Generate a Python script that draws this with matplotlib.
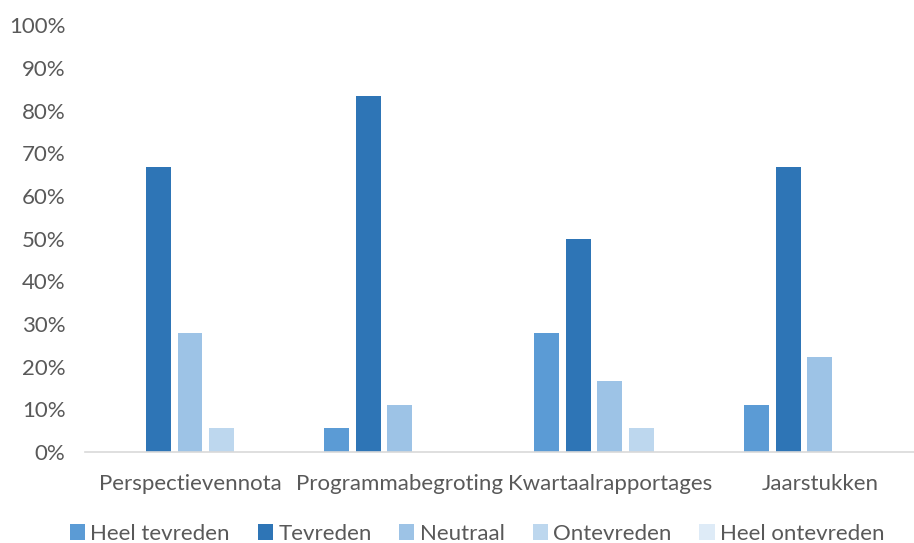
import numpy as np
import matplotlib.pyplot as plt

categories = ['Perspectievennota', 'Programmabegroting', 'Kwartaalrapportages', 'Jaarstukken']
series = ['Heel tevreden', 'Tevreden', 'Neutraal', 'Ontevreden', 'Heel ontevreden']
heel_tevreden = [0.0, 5.6, 27.8, 11.1]
tevreden = [66.7, 83.3, 50.0, 66.7]
neutraal = [27.8, 11.1, 16.7, 22.2]
ontevreden = [5.6, 0.0, 5.6, 0.0]
heel_ontevreden = [0.0, 0.0, 0.0, 0.0]
colors = ['#5B9BD5', '#2E75B6', '#9DC3E6', '#BDD7EE', '#DEEBF7']

plt.rcParams['font.family'] = ['Lato', 'DejaVu Sans']

fig = plt.figure(figsize=(9.14, 5.43), dpi=100)
ax = fig.add_axes([0.093, 0.1676, 0.919, 0.786])

x = np.arange(len(categories))
pitch = 0.152
width = 0.119
data = [heel_tevreden, tevreden, neutraal, ontevreden, heel_ontevreden]
for i, (name, vals) in enumerate(zip(series, data)):
    ax.bar(x + (i - 2) * pitch, np.array(vals) / 100, width, color=colors[i], label=name)

ax.set_xlim(-0.5, 3.5)
ax.set_ylim(0, 1)
ax.set_yticks(np.arange(0, 1.01, 0.1))
ax.set_yticklabels(['%d%%' % v for v in range(0, 101, 10)])
ax.set_xticks(x)
ax.set_xticklabels(categories)
ax.tick_params(axis='both', length=0, labelsize=16, colors='#595959')
ax.tick_params(axis='x', pad=16)
ax.tick_params(axis='y', pad=14)
for s in ['top', 'right', 'left']:
    ax.spines[s].set_visible(False)
ax.spines['bottom'].set_color('#D9D9D9')
ax.spines['bottom'].set_linewidth(1.2)

fig.legend(loc='center', bbox_to_anchor=(0.522, 0.017), ncol=5, frameon=False,
           fontsize=16, handlelength=0.68, handleheight=0.68, handletextpad=0.25,
           columnspacing=1.25, labelcolor='#595959', borderpad=0)

fig.savefig('out.png', dpi=100)
